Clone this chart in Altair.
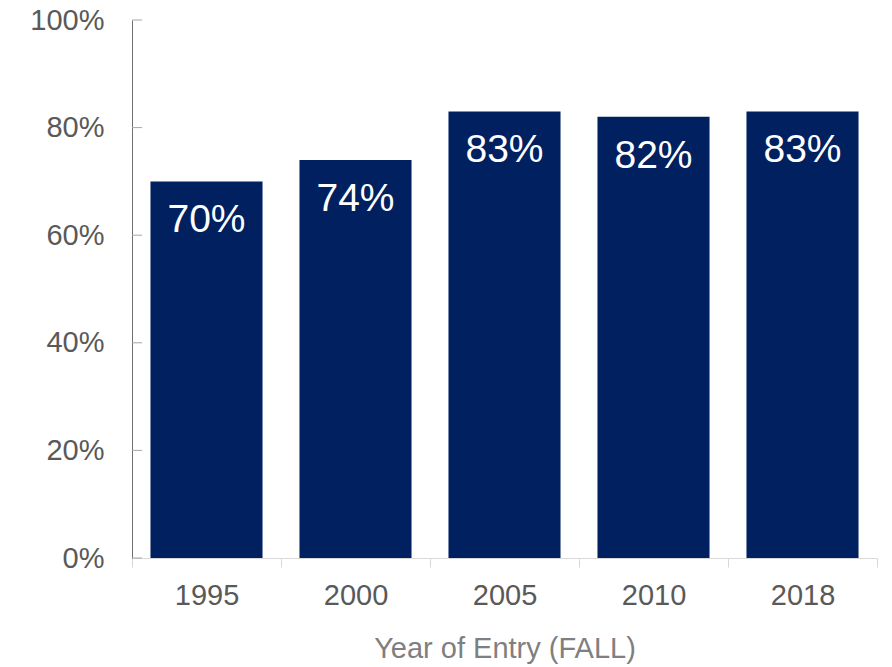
import altair as alt
import pandas as pd

years = ["1995", "2000", "2005", "2010", "2018"]
values = [70, 74, 83, 82, 83]
tick_values = [0, 20, 40, 60, 80, 100]

df = pd.DataFrame({"year": years, "value": values})
df["label"] = [f"{v}%" for v in values]
ticks_df = pd.DataFrame({"t": tick_values})

FONT = "Liberation Sans"
x_scale = alt.Scale(paddingInner=0, paddingOuter=0)
x_enc = alt.X(
    "year:N",
    sort=years,
    scale=x_scale,
    axis=alt.Axis(
        title="Year of Entry (FALL)",
        labelAngle=0,
        labelFontSize=29,
        labelColor="#595959",
        labelFont=FONT,
        labelPadding=14,
        tickBand="extent",
        tickSize=9,
        tickColor="#d9d9d9",
        domainColor="#d9d9d9",
        titleFontSize=29,
        titleFont=FONT,
        titleFontWeight="normal",
        titleColor="#7f7f7f",
        titlePadding=24,
    ),
)
y_scale = alt.Scale(domain=[0, 100], nice=False)
y_enc = alt.Y(
    "value:Q",
    scale=y_scale,
    axis=alt.Axis(
        title=None,
        values=tick_values,
        labelExpr="datum.value + '%'",
        labelFontSize=29,
        labelColor="#595959",
        labelFont=FONT,
        labelPadding=28,
        ticks=False,
        grid=False,
        domainColor="#707070",
    ),
)

bars = alt.Chart(df).mark_bar(color="#002060", width={"band": 0.752}).encode(x=x_enc, y=y_enc)
text = alt.Chart(df).mark_text(
    color="white", fontSize=39, font=FONT, baseline="alphabetic", dy=51
).encode(x=alt.X("year:N", sort=years, scale=x_scale), y=alt.Y("value:Q", scale=y_scale), text="label:N")
yticks = alt.Chart(ticks_df).mark_rule(color="#a6a6a6", strokeWidth=1).encode(
    y=alt.Y("t:Q", scale=y_scale), x=alt.value(0), x2=alt.value(10)
)

chart = (
    alt.layer(bars, text, yticks)
    .properties(
        width=745,
        height=538,
        autosize=alt.AutoSizeParams(type="none"),
        padding={"left": 124, "top": 12, "right": 5, "bottom": 108},
    )
    .configure_view(stroke=None)
)
chart.save("out.html", embed_options={"renderer": "svg", "actions": False})
